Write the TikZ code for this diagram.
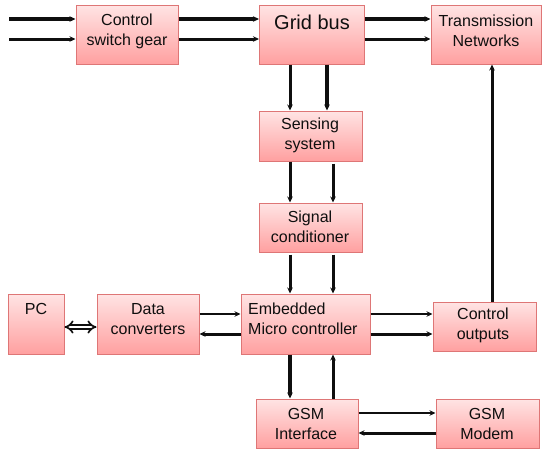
\documentclass[tikz,border=0pt]{standalone}
\usepackage{fontspec}
\setmainfont{Liberation Sans}
\usetikzlibrary{arrows.meta}

\definecolor{boxtop}{RGB}{255,228,228}
\definecolor{boxbot}{RGB}{255,160,160}
\definecolor{boxline}{RGB}{222,118,118}
\definecolor{ink}{RGB}{15,15,15}

\tikzset{
  block/.style={draw=boxline, line width=1pt, top color=boxtop, bottom color=boxbot,
                rectangle, inner sep=0pt},
  lbl/.style={text=ink, align=center, inner sep=0pt,
              font=\fontsize{16}{20}\selectfont},
  arr/.style={draw=ink, -{Stealth[length=6pt,width=5.5pt]}},
  heavy/.style={arr, line width=3.4pt},
  medium/.style={arr, line width=3pt},
  light/.style={arr, line width=2pt},
}

\begin{document}
\begin{tikzpicture}[x=1pt, y=-1pt]
  \useasboundingbox (0,0) rectangle (550,451);

  % blocks
  \node[block, minimum width=102pt, minimum height=59pt] (csg)   at (127,34.5)   {};
  \node[block, minimum width=105pt, minimum height=59pt] (grid)  at (312,34.5)   {};
  \node[block, minimum width=110pt, minimum height=59pt] (tx)    at (486,34.5)   {};
  \node[block, minimum width=103pt, minimum height=50pt] (sens)  at (310.5,136)  {};
  \node[block, minimum width=103pt, minimum height=49pt] (sig)   at (310.5,227.5){};
  \node[block, minimum width=129pt, minimum height=60pt] (emb)   at (305.5,324)  {};
  \node[block, minimum width=103pt, minimum height=49pt] (ctrl)  at (484.5,326.5){};
  \node[block, minimum width=102pt, minimum height=49pt] (gsmi)  at (307,423.5)  {};
  \node[block, minimum width=103pt, minimum height=49pt] (modem) at (487.5,423.5){};
  \node[block, minimum width=56pt,  minimum height=60pt] (pc)    at (36,324)     {};
  \node[block, minimum width=102pt, minimum height=60pt] (dc)    at (148,324)    {};

  % labels
  \node[lbl] (csg-t)   at (127,31)   {Control\\switch gear};
  \node[lbl, font=\fontsize{20}{24}\selectfont] (grid-t) at (312,22) {Grid bus};
  \node[lbl] (tx-t)    at (486,31)   {Transmission\\Networks};
  \node[lbl] (sens-t)  at (310,135)  {Sensing\\system};
  \node[lbl] (sig-t)   at (310,227)  {Signal\\conditioner};
  \node[lbl, anchor=west, align=left] (emb-t) at (248,319) {Embedded\\Micro controller};
  \node[lbl] (ctrl-t)  at (483,325.5){Control\\outputs};
  \node[lbl] (gsmi-t)  at (306,424)  {GSM\\Interface};
  \node[lbl] (modem-t) at (487,424)  {GSM\\Modem};
  \node[lbl] (pc-t)    at (36,309)   {PC};
  \node[lbl] (dc-t)    at (148,319)  {Data\\converters};

  % reference rows and columns for the connectors
  \coordinate (in1) at (9,19);
  \coordinate (in2) at (9,39);
  \coordinate (colA) at (290,0);
  \coordinate (colB) at (327,0);
  \coordinate (colC) at (333,0);
  \coordinate (colD) at (492,0);
  \coordinate (rowA) at (0,314);
  \coordinate (rowB) at (0,334);
  \coordinate (rowC) at (0,327);
  \coordinate (rowD) at (0,413);
  \coordinate (rowE) at (0,433);

  % incoming feeders
  \draw[heavy]  (in1) -- (in1 -| csg.west);
  \draw[medium] (in2) -- (in2 -| csg.west);
  % switch gear to grid bus
  \draw[heavy]  (in1 -| csg.east) -- (in1 -| grid.west);
  \draw[medium] (in2 -| csg.east) -- (in2 -| grid.west);
  % grid bus to transmission networks
  \draw[heavy]  (in1 -| grid.east) -- (in1 -| tx.west);
  \draw[medium] (in2 -| grid.east) -- (in2 -| tx.west);

  % grid bus to sensing system
  \draw[medium] (grid.south -| colA) -- (sens.north -| colA);
  \draw[heavy]  (grid.south -| colB) -- (sens.north -| colB);
  % sensing system to signal conditioner
  \draw[medium] (sens.south -| colA) -- (sig.north -| colA);
  \draw[medium] ([yshift=-2pt]sens.south -| colC) -- (sig.north -| colC);
  % signal conditioner to micro controller
  \draw[medium] ([yshift=-2pt]sig.south -| colA) -- (emb.north -| colA);
  \draw[medium] ([yshift=-2pt]sig.south -| colC) -- (emb.north -| colC);

  % micro controller and control outputs
  \draw[light]  (rowA -| emb.east) -- (rowA -| ctrl.west);
  \draw[medium] (rowB -| emb.east) -- (rowB -| ctrl.west);
  \draw[medium] (ctrl.north -| colD) -- (tx.south -| colD);

  % data converters and micro controller
  \draw[light]  (rowA -| dc.east) -- (rowA -| emb.west);
  \draw[medium] (rowB -| emb.west) -- (rowB -| dc.east);

  % PC link
  \draw[draw=ink, line width=1.7pt, double=white, double distance=2.6pt,
        {Implies}-{Implies}] (rowC -| pc.east) -- (rowC -| dc.west);

  % micro controller and GSM interface
  \draw[heavy]  (emb.south -| colA) -- (gsmi.north -| colA);
  \draw[medium] (gsmi.north -| colC) -- (emb.south -| colC);

  % GSM interface and modem
  \draw[light]  (rowD -| gsmi.east) -- (rowD -| modem.west);
  \draw[medium] (rowE -| modem.west) -- (rowE -| gsmi.east);
\end{tikzpicture}
\end{document}
